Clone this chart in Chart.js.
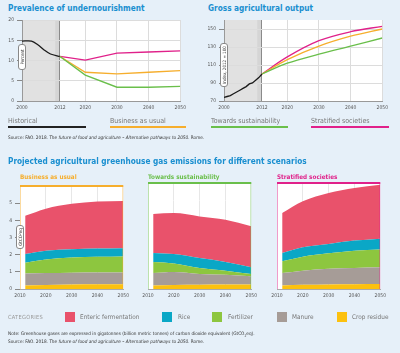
<!DOCTYPE html>
<html>
<head>
<meta charset="utf-8">
<script src="https://cdn.jsdelivr.net/npm/chart.js@4.4.1/dist/chart.umd.min.js"></script>
<style>
body { margin:0; width:400px; height:353px; background:#e6f0f9; position:relative; overflow:hidden;
  font-family:'Liberation Sans Narrow','DejaVu Sans Condensed',sans-serif; }
.t { position:absolute; white-space:nowrap; line-height:1; }
.h { color:#1a8fd0; font-weight:bold; font-size:8.2px; }
.sub { font-size:6.3px; font-weight:bold; }
.leg { color:#777; font-size:7px; }
.leg2 { color:#777; font-size:6.4px; }
.src { color:#333; font-size:4.7px; }
.bar { position:absolute; height:2px; }
.sw { position:absolute; width:10px; height:10px; top:312px; }
.tag { position:absolute; background:#fff; border:1px solid #888; border-radius:3px; font-size:4.5px; color:#333;
  display:flex; align-items:center; justify-content:center; transform:rotate(-90deg); box-sizing:border-box; }
canvas { position:absolute; }
</style>
</head>
<body>
<!-- top panels -->
<div class="t h" style="left:8px;top:3.5px">Prevalence of undernourishment</div>
<div class="t h" style="left:208px;top:3.5px">Gross agricultural output</div>
<canvas id="c1" width="190" height="101" style="left:0;top:14px"></canvas>
<canvas id="c2" width="192" height="101" style="left:200px;top:14px"></canvas>
<div class="tag" style="left:9px;top:53px;width:26px;height:8px">Percent</div>
<div class="tag" style="left:202px;top:61px;width:44px;height:8px">Index, 2012 = 100</div>

<div class="t leg" style="left:8px;top:118px">Historical</div>
<div class="bar" style="left:8px;top:126px;width:78px;background:#222"></div>
<div class="t leg" style="left:110px;top:118px">Business as usual</div>
<div class="bar" style="left:110px;top:126px;width:76px;background:#f6ae2d"></div>
<div class="t leg" style="left:211px;top:118px">Towards sustainability</div>
<div class="bar" style="left:211px;top:126px;width:77px;background:#6abf4b"></div>
<div class="t leg" style="left:311px;top:118px">Stratified societies</div>
<div class="bar" style="left:311px;top:126px;width:78px;background:#e0218a"></div>
<div class="t src" style="left:8px;top:136px">Source: FAO. 2018. <i>The future of food and agriculture – Alternative pathways to 2050.</i> Rome.</div>

<!-- bottom panels -->
<div class="t h" style="left:8px;top:157px">Projected agricultural greenhouse gas emissions for different scenarios</div>
<div class="t sub" style="left:20px;top:174px;color:#f6ae2d">Business as usual</div>
<div class="t sub" style="left:148px;top:174px;color:#6abf4b">Towards sustainability</div>
<div class="t sub" style="left:277px;top:174px;color:#e0218a">Stratified societies</div>
<canvas id="c3" width="133" height="121" style="left:0;top:180px"></canvas>
<canvas id="c4" width="133" height="121" style="left:128px;top:180px"></canvas>
<canvas id="c5" width="133" height="121" style="left:257px;top:180px"></canvas>
<div class="tag" style="left:8px;top:233px;width:24px;height:8px">GtCO<sub style="font-size:3px">2</sub>eq</div>

<div class="t" style="left:8px;top:314.5px;font-size:5.6px;color:#999;letter-spacing:0.3px">CATEGORIES</div>
<div class="sw" style="left:65px;background:#e9526b"></div>
<div class="t leg2" style="left:80px;top:314px">Enteric fermentation</div>
<div class="sw" style="left:162px;background:#0aa7c6"></div>
<div class="t leg2" style="left:178px;top:314px">Rice</div>
<div class="sw" style="left:212px;background:#8dc63f"></div>
<div class="t leg2" style="left:228px;top:314px">Fertilizer</div>
<div class="sw" style="left:277px;background:#a69c97"></div>
<div class="t leg2" style="left:292px;top:314px">Manure</div>
<div class="sw" style="left:337px;background:#fcc10f"></div>
<div class="t leg2" style="left:352px;top:314px">Crop residue</div>
<div class="t src" style="left:8px;top:332px">Note: Greenhouse gases are expressed in gigatonnes (billion metric tonnes) of carbon dioxide equivalent (GtCO<sub style="font-size:3.3px">2</sub>eq).</div>
<div class="t src" style="left:8px;top:340px">Source: FAO. 2018. <i>The future of food and agriculture – Alternative pathways to 2050.</i> Rome.</div>

<script>
// --- top left: prevalence of undernourishment (%)
const histYears = [2000, 2003, 2005, 2007, 2009, 2012];
const histPrev = [14.8, 14.8, 13.9, 12.6, 11.6, 11.0];
const projYears = [2012, 2020, 2030, 2040, 2050];
const prevBAU = [11, 7.1, 6.7, 7.1, 7.5];
const prevTS = [11, 6.4, 3.4, 3.4, 3.6];
const prevSS = [11, 10.1, 11.8, 12.1, 12.4];
const prevTicks = [0, 5, 10, 15, 20];

// --- top right: gross agricultural output (index 2012 = 100)
const outYears = [2000, 2001, 2002, 2003, 2004, 2005, 2006, 2007, 2008, 2009, 2010, 2011, 2012];
const outHist = [74, 75, 76, 78, 80, 82, 84, 86, 89, 90, 93, 96, 100];
const outBAU = [100, 116, 131, 142, 150];
const outTS = [100, 112, 122, 131, 140];
const outSS = [100, 119, 137, 147, 153];
const outTicks = [70, 90, 110, 130, 150];
const topYearTicks = [2000, 2012, 2020, 2030, 2040, 2050];

// --- bottom: emissions by category (GtCO2eq), per scenario
const emYears = [2012, 2020, 2030, 2040, 2050];
const bauCrop = [0.2, 0.24, 0.26, 0.27, 0.28];
const bauManure = [0.7, 0.69, 0.69, 0.69, 0.68];
const bauFert = [0.63, 0.79, 0.88, 0.92, 0.94];
const bauRice = [0.51, 0.51, 0.49, 0.48, 0.48];
const bauEnteric = [2.22, 2.45, 2.64, 2.74, 2.75];

const tsCrop = [0.2, 0.23, 0.24, 0.25, 0.25];
const tsManure = [0.7, 0.73, 0.61, 0.56, 0.47];
const tsFert = [0.63, 0.49, 0.34, 0.23, 0.13];
const tsRice = [0.51, 0.53, 0.56, 0.49, 0.38];
const tsEnteric = [2.21, 2.32, 2.36, 2.39, 2.32];

const ssCrop = [0.2, 0.24, 0.26, 0.27, 0.28];
const ssManure = [0.7, 0.8, 0.89, 0.92, 0.95];
const ssFert = [0.67, 0.79, 0.87, 0.98, 1.0];
const ssRice = [0.47, 0.53, 0.53, 0.57, 0.62];
const ssEnteric = [2.26, 2.6, 2.88, 2.98, 3.05];
const emTicks = [0, 1, 2, 3, 4, 5];
const emYearTicks = [2010, 2020, 2030, 2040, 2050];

const ORANGE = '#f6ae2d', GREEN = '#6abf4b', MAGENTA = '#e0218a';
const catColors = ['#fcc10f', '#a69c97', '#8dc63f', '#0aa7c6', '#e9526b']; // crop, manure, fert, rice, enteric
const FONT = "'Liberation Sans Narrow','DejaVu Sans Condensed',sans-serif";

const zip = (xs, ys) => xs.map((x, i) => ({x: x, y: ys[i]}));
const setTicks = list => s => { s.ticks = list.map(v => ({value: v})); };
const plain = v => String(v); // no thousands separator on years

// white plot area + grey "historical" band, frame on top
const panelBg = {
  id: 'panelBg',
  beforeDraw(chart, args, o) {
    const a = chart.chartArea, ctx = chart.ctx, x = chart.scales.x;
    ctx.save();
    ctx.fillStyle = '#fff';
    ctx.fillRect(a.left, a.top, a.right - a.left, a.bottom - a.top);
    if (o.shadeTo) {
      const x0 = x.getPixelForValue(o.shadeFrom), x1 = x.getPixelForValue(o.shadeTo);
      ctx.fillStyle = '#e1e1e1';
      ctx.fillRect(x0, a.top, x1 - x0, a.bottom - a.top);
      const x2 = x.getPixelForValue(o.shadeTo - 1.5);
      ctx.fillStyle = '#d5d5d5';
      ctx.fillRect(x2, a.top, x1 - x2, a.bottom - a.top);
    }
    ctx.restore();
  },
  afterDraw(chart, args, o) {
    if (!o.frame) return;
    const a = chart.chartArea, ctx = chart.ctx;
    ctx.save();
    ctx.fillStyle = o.frame;
    ctx.fillRect(a.left, a.top - 1, a.right - a.left, 2);
    ctx.globalAlpha = 0.45;
    ctx.fillRect(a.left, a.top, 1, a.bottom - a.top);
    ctx.fillRect(a.right - 1, a.top, 1, a.bottom - a.top);
    ctx.restore();
  }
};
Chart.register(panelBg);

function topChart(id, datasets, yMin, yMax, yTicks, yWidth) {
  return new Chart(document.getElementById(id), {
    type: 'line',
    data: {datasets: datasets},
    options: {
      responsive: false,
      animation: false,
      layout: {padding: {top: 6, right: 8}},
      elements: {point: {radius: 0}, line: {borderWidth: 1.3, tension: 0}},
      plugins: {legend: {display: false}, tooltip: {enabled: false},
        panelBg: {shadeFrom: 2000, shadeTo: 2012}},
      scales: {
        x: {
          type: 'linear', min: 2000, max: 2050,
          afterBuildTicks: setTicks(topYearTicks),
          afterFit: s => { s.height = 14; },
          grid: {color: c => c.tick && c.tick.value === 2012 ? '#8a8a8a' : '#dcdcdc', drawTicks: false},
          border: {display: true, color: '#999'},
          ticks: {font: {size: 5, family: FONT}, color: '#555', padding: 4, maxRotation: 0, callback: plain}
        },
        y: {
          min: yMin, max: yMax,
          afterBuildTicks: setTicks(yTicks),
          afterFit: s => { s.width = yWidth; },
          grid: {color: '#dcdcdc', tickColor: '#888', tickLength: 5},
          border: {display: true, color: '#999'},
          ticks: {font: {size: 5, family: FONT}, color: '#555', padding: 3, callback: plain}
        }
      }
    }
  });
}

topChart('c1', [
  {data: zip(projYears, prevTS), borderColor: GREEN},
  {data: zip(projYears, prevBAU), borderColor: ORANGE},
  {data: zip(projYears, prevSS), borderColor: MAGENTA},
  {data: zip(histYears, histPrev), borderColor: '#1a1a1a', tension: 0.3}
], 0, 20, prevTicks, 22);

topChart('c2', [
  {data: zip(projYears, outTS), borderColor: GREEN, tension: 0.35},
  {data: zip(projYears, outBAU), borderColor: ORANGE, tension: 0.35},
  {data: zip(projYears, outSS), borderColor: MAGENTA, tension: 0.35},
  {data: zip(outYears, outHist), borderColor: '#1a1a1a'}
], 70, 160, outTicks, 24);

function emChart(id, series, frame, showY) {
  const names = ['Crop residue', 'Manure', 'Fertilizer', 'Rice', 'Enteric fermentation'];
  return new Chart(document.getElementById(id), {
    type: 'line',
    data: {
      datasets: series.map((vals, i) => ({
        label: names[i],
        data: zip(emYears, vals),
        backgroundColor: catColors[i],
        borderWidth: 0,
        fill: i === 0 ? 'origin' : '-1'
      }))
    },
    options: {
      responsive: false,
      animation: false,
      layout: {padding: {top: 3, right: 6}},
      elements: {point: {radius: 0}, line: {tension: 0.4, cubicInterpolationMode: 'monotone'}},
      plugins: {legend: {display: false}, tooltip: {enabled: false}, panelBg: {frame: frame}},
      scales: {
        x: {
          type: 'linear', min: 2010, max: 2050, z: 1,
          afterBuildTicks: setTicks(emYearTicks),
          afterFit: s => { s.height = 12; },
          grid: {color: c => c.tick && (c.tick.value === 2010 || c.tick.value === 2050) ? 'rgba(0,0,0,0)' : 'rgba(215,215,215,0.6)', drawTicks: false},
          border: {display: true, color: '#aaa'},
          ticks: {font: {size: 5, family: FONT}, color: '#555', padding: 4, maxRotation: 0, callback: plain}
        },
        y: {
          stacked: true, min: 0, max: 6, z: 1,
          afterBuildTicks: setTicks(emTicks),
          afterFit: s => { s.width = 20; },
          grid: {color: c => c.tick && c.tick.value > 0 ? 'rgba(255,255,255,0.35)' : 'rgba(0,0,0,0)',
            tickColor: showY ? '#888' : 'rgba(0,0,0,0)', tickLength: 5},
          border: {display: false},
          ticks: {display: showY, font: {size: 5, family: FONT}, color: '#555', padding: 3, callback: plain}
        }
      }
    }
  });
}

emChart('c3', [bauCrop, bauManure, bauFert, bauRice, bauEnteric], ORANGE, true);
emChart('c4', [tsCrop, tsManure, tsFert, tsRice, tsEnteric], GREEN, false);
emChart('c5', [ssCrop, ssManure, ssFert, ssRice, ssEnteric], MAGENTA, false);
</script>
</body>
</html>
